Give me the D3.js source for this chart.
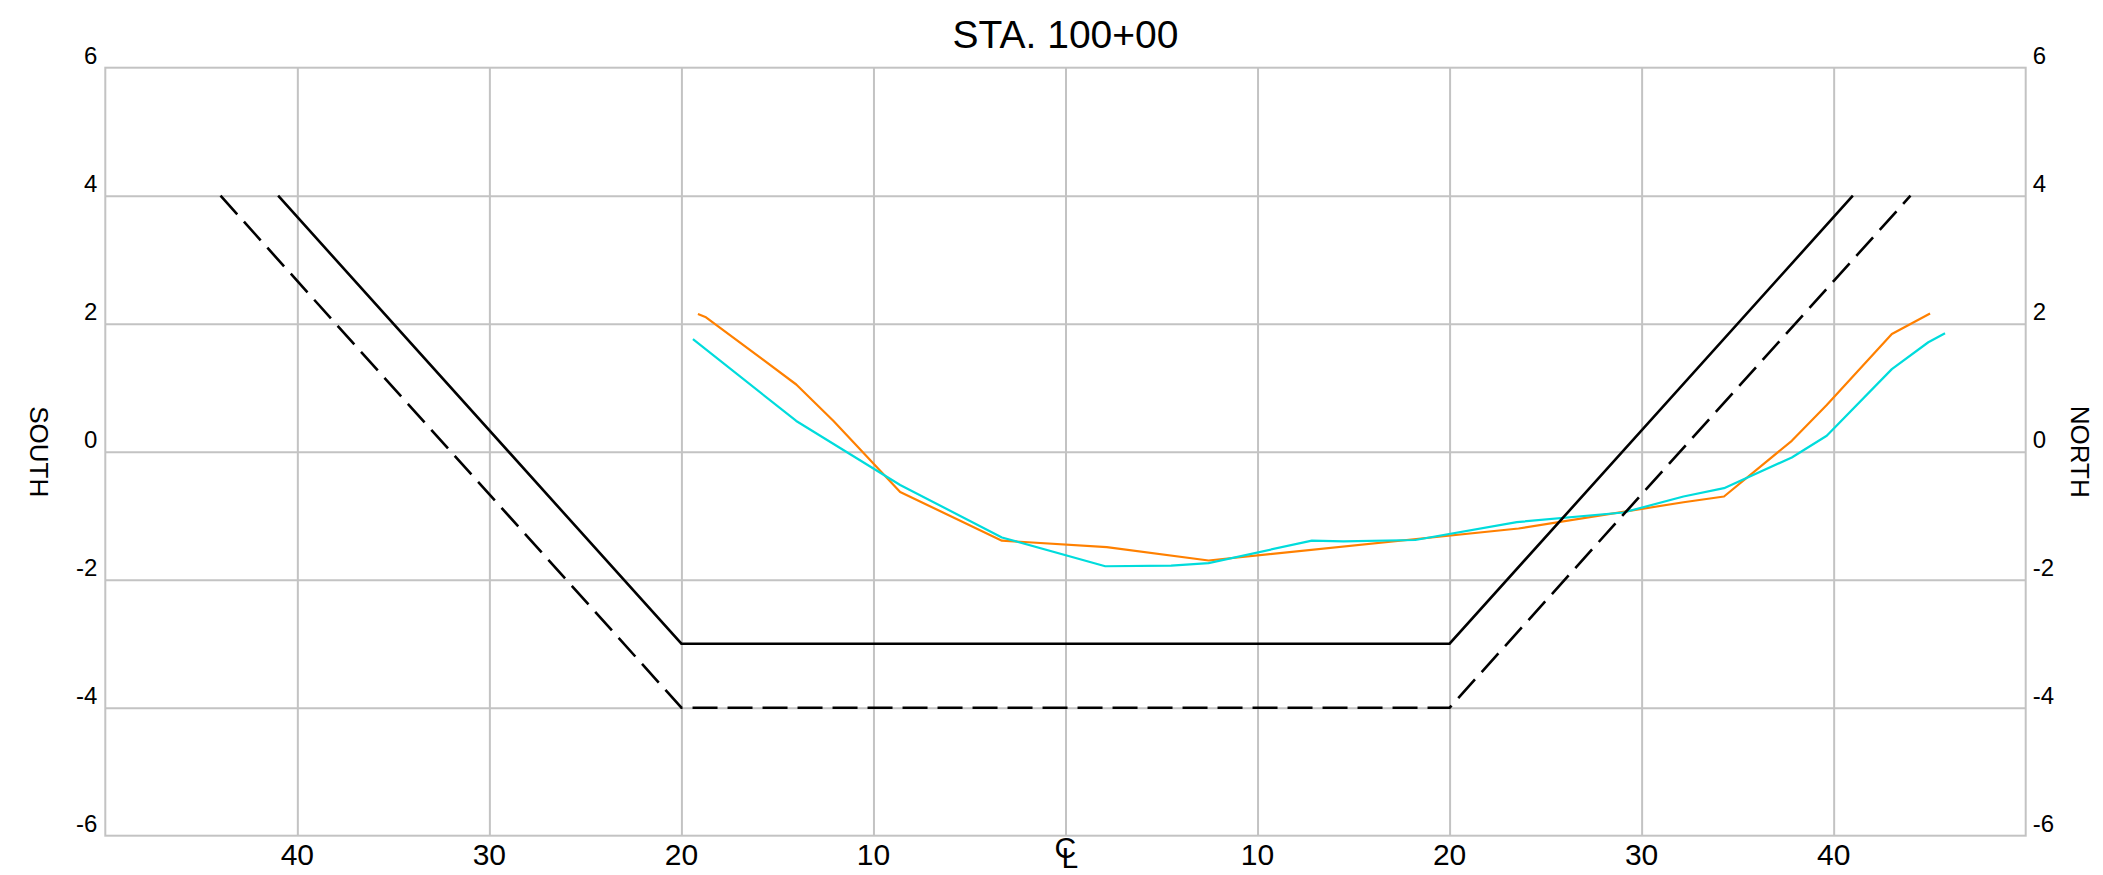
<!DOCTYPE html>
<html><head><meta charset="utf-8">
<script src="https://cdn.jsdelivr.net/npm/d3@7"></script>
<style>
body{margin:0;background:#fff;}
text{font-family:"Liberation Sans",Arial,Helvetica,sans-serif;fill:#000;}
</style>
</head><body>
<svg id="chart" width="2103" height="875"></svg>
<script>
// ---- data ----
const chartTitle = "STA. 100+00";
const xTicks = [-40, -30, -20, -10, 0, 10, 20, 30, 40];
const xTickLabels = ["40", "30", "20", "10", "", "10", "20", "30", "40"];
const yTicks = [-6, -4, -2, 0, 2, 4, 6];
const yTickLabels = ["-6", "-4", "-2", "0", "2", "4", "6"];
const leftSideLabel = "SOUTH";
const rightSideLabel = "NORTH";

// design section (solid) and over-excavation (dashed)
const designX = [-41, -20, 20, 41];
const designY = [4, -3, -3, 4];
const overX = [-44, -20, 20, 44];
const overY = [4, -4, -4, 4];

// surveyed ground lines
const orangeX = [-19.14, -18.72, -14.02, -12.08, -8.61, -3.31, 2.15, 7.45, 23.59, 32.18, 34.29, 37.82, 39.64, 43.03, 45.02];
const orangeY = [2.15, 2.10, 1.05, 0.48, -0.63, -1.39, -1.49, -1.70, -1.20, -0.79, -0.70, 0.17, 0.73, 1.84, 2.16];
const cyanX = [-19.40, -14.02, -8.61, -3.31, 2.07, 5.5, 7.45, 12.83, 14.47, 18.21, 23.50, 29.05, 32.18, 34.29, 37.82, 39.64, 43.03, 44.93, 45.80];
const cyanY = [1.76, 0.48, -0.52, -1.34, -1.79, -1.78, -1.74, -1.39, -1.40, -1.38, -1.10, -0.95, -0.70, -0.57, -0.09, 0.25, 1.29, 1.71, 1.85];

// ---- layout ----
const L = 105.3, R = 2025.7, T = 67.7, B = 835.7;
const svg = d3.select("#chart");
const x = d3.scaleLinear().domain([-50, 50]).range([L, R]);
const y = d3.scaleLinear().domain([-6, 6]).range([B, T]);
const gridColor = "#c3c3c3";

// grid via axes
const gx = svg.append("g").attr("transform", `translate(0,${B})`)
  .call(d3.axisBottom(x).tickValues(xTicks).tickSize(-(B - T)).tickFormat(""));
const gy = svg.append("g").attr("transform", `translate(${L},0)`)
  .call(d3.axisLeft(y).tickValues(yTicks.filter(v => v > -6 && v < 6)).tickSize(-(R - L)).tickFormat(""));
[gx, gy].forEach(g => {
  g.select(".domain").remove();
  g.selectAll("line").attr("stroke", gridColor).attr("stroke-width", 2);
});
svg.append("rect").attr("x", L).attr("y", T).attr("width", R - L).attr("height", B - T)
  .attr("fill", "none").attr("stroke", gridColor).attr("stroke-width", 2);

// title
svg.append("text").attr("x", x(0)).attr("y", 48).attr("text-anchor", "middle")
  .attr("font-size", 39).text(chartTitle);

// y tick labels both sides
yTicks.forEach((v, i) => {
  svg.append("text").attr("x", L - 8).attr("y", y(v) - 4).attr("text-anchor", "end")
    .attr("font-size", 24).text(yTickLabels[i]);
  svg.append("text").attr("x", R + 7).attr("y", y(v) - 4).attr("text-anchor", "start")
    .attr("font-size", 24).text(yTickLabels[i]);
});

// x tick labels
xTicks.forEach((v, i) => {
  if (xTickLabels[i] === "") return;
  svg.append("text").attr("x", x(v)).attr("y", 865).attr("text-anchor", "middle")
    .attr("font-size", 30).text(xTickLabels[i]);
});
// centerline symbol (C over L) as one text
const cl = svg.append("text").attr("font-size", 30);
cl.append("tspan").attr("x", x(0) - 11).attr("y", 858).text("C");
cl.append("tspan").attr("x", x(0) - 4).attr("y", 868).text("L");

// side labels
svg.append("text").attr("transform", `translate(39,${y(0)}) rotate(90)`)
  .attr("text-anchor", "middle").attr("dominant-baseline", "central")
  .attr("font-size", 26).text(leftSideLabel);
svg.append("text").attr("transform", `translate(2080,${y(0)}) rotate(90)`)
  .attr("text-anchor", "middle").attr("dominant-baseline", "central")
  .attr("font-size", 26).text(rightSideLabel);

// lines
const line = d3.line().x(d => x(d[0])).y(d => y(d[1]));
const zip = (a, b) => a.map((v, i) => [v, b[i]]);

svg.append("path").datum(zip(orangeX, orangeY)).attr("d", line)
  .attr("fill", "none").attr("stroke", "#ff8000").attr("stroke-width", 2.2).attr("stroke-linejoin", "round");
svg.append("path").datum(zip(cyanX, cyanY)).attr("d", line)
  .attr("fill", "none").attr("stroke", "#00dcdc").attr("stroke-width", 2.2).attr("stroke-linejoin", "round");
svg.append("path").datum(zip(designX, designY)).attr("d", line)
  .attr("fill", "none").attr("stroke", "#000").attr("stroke-width", 2.6);
svg.append("path").datum(zip(overX, overY)).attr("d", line)
  .attr("fill", "none").attr("stroke", "#000").attr("stroke-width", 2.6).attr("stroke-dasharray", "25,10");
</script>
</body></html>
